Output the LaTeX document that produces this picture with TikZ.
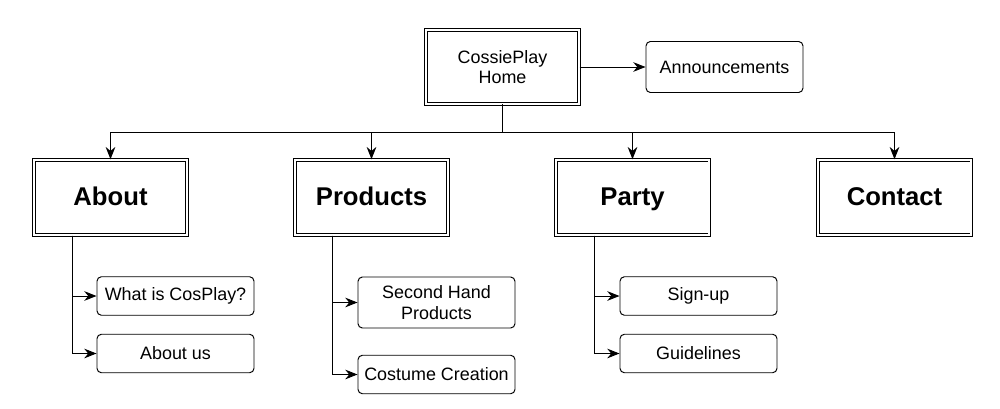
\documentclass[tikz,border=0pt]{standalone}
\usepackage{fontspec}
\setmainfont{Liberation Sans}
\usetikzlibrary{arrows.meta}
\tikzset{
  homebox/.style={draw, double, double distance=0.9pt, line width=0.55pt, minimum width=3.07cm, minimum height=1.47cm, align=center, font=\fontsize{10.2}{11.5}\selectfont},
  mainbox/.style={homebox, minimum height=1.51cm, text height=1.65ex, text depth=0pt, font=\fontsize{14.6}{17}\selectfont\bfseries},
  subbox/.style={draw, rounded corners=2.5pt, line width=0.55pt, minimum width=3.14cm, minimum height=0.77cm, align=center, font=\fontsize{10.2}{11.8}\selectfont},
  link/.style={-{Stealth[length=7pt,width=5.5pt]}, line width=0.55pt}
}
\begin{document}
\begin{tikzpicture}
\useasboundingbox (0,0) rectangle (20,8.16);
% top level
\node[homebox] (home) at (10.05,6.82) {CossiePlay\\Home};
\node[subbox, minimum height=1.02cm] (announce) at (14.49,6.82) {Announcements};
\draw[link] (home) -- (announce);
% sections
\node[mainbox] (about) at (2.21,4.21) {About};
\node[mainbox] (products) at (7.43,4.21) {Products};
\node[mainbox] (party) at (12.65,4.21) {Party};
\node[mainbox] (contact) at (17.89,4.21) {Contact};
\coordinate (bus) at (10.05,5.52);
\draw[line width=0.55pt] (home.south) -- (bus);
\draw[link] (bus) -| (about);
\draw[link] (bus) -| (products);
\draw[link] (bus) -| (party);
\draw[link] (bus) -| (contact);
% pages
\node[subbox] (whatis) at (3.51,2.24) {What is CosPlay?};
\node[subbox] (aboutus) at (3.51,1.09) {About us};
\node[subbox, minimum height=1.02cm] (secondhand) at (8.73,2.11) {Second Hand\\Products};
\node[subbox] (costume) at (8.73,0.67) {Costume Creation};
\node[subbox] (signup) at (13.97,2.24) {Sign-up};
\node[subbox] (guidelines) at (13.97,1.09) {Guidelines};
\draw[link] ([xshift=-0.77cm]about.south) |- (whatis);
\draw[link] ([xshift=-0.77cm]about.south) |- (aboutus);
\draw[link] ([xshift=-0.79cm]products.south) |- (secondhand);
\draw[link] ([xshift=-0.79cm]products.south) |- (costume);
\draw[link] ([xshift=-0.77cm]party.south) |- (signup);
\draw[link] ([xshift=-0.77cm]party.south) |- (guidelines);
\end{tikzpicture}
\end{document}
